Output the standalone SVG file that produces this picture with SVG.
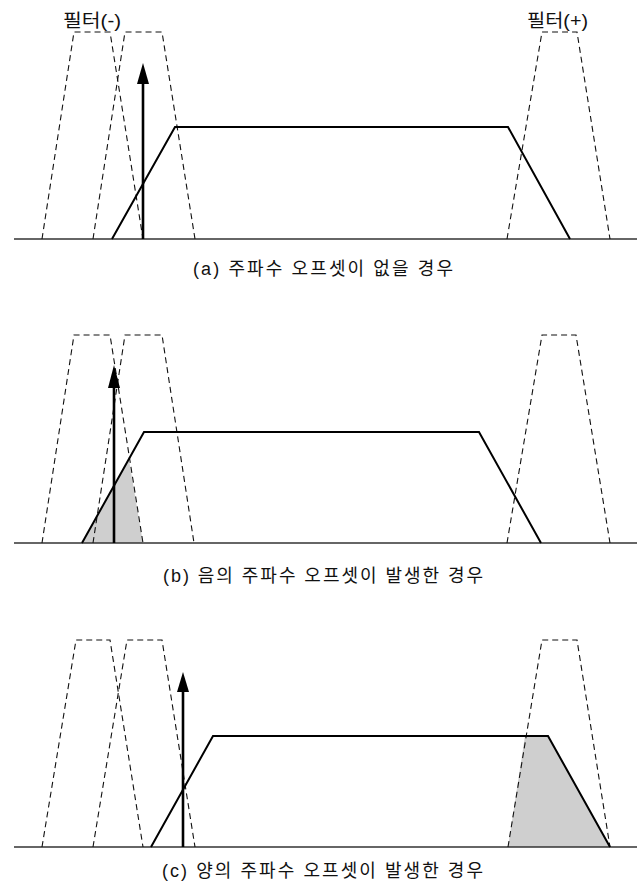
<svg xmlns="http://www.w3.org/2000/svg" width="637" height="886" viewBox="0 0 637 886">
<defs>
<style>
.base{fill:none;stroke:#333;stroke-width:1.3}
.filt{fill:none;stroke:#111;stroke-width:1.1;stroke-dasharray:6,4}
.sig{fill:none;stroke:#000;stroke-width:2;stroke-linejoin:miter}
.shade{fill:#cfcfcf;stroke:none}
.arr{stroke:#000;stroke-width:2.6}
.head{fill:#000}
.lbl{font-family:"Liberation Sans","Noto Sans CJK KR",sans-serif;font-size:18px;fill:#111}
.cap{font-family:"Liberation Sans","Noto Sans CJK KR",sans-serif;font-size:18px;fill:#111}
</style>
</defs>

<!-- Panel (a) -->
<g id="panel-a">
  <line class="base" x1="14" y1="239" x2="637" y2="239"/>
  <g id="a-filter-m1"><polyline class="filt" points="42,239 74,32 110,32 143,239"/></g>
  <g id="a-filter-m2"><polyline class="filt" points="93,239 125,32 162,32 195,239"/></g>
  <g id="a-filter-p"><polyline class="filt" points="507,239 542,32 577,32 610,239"/></g>
  <g id="a-signal"><polyline class="sig" points="112,239 175,127 508,127 570,239"/></g>
  <g id="a-carrier">
    <line class="arr" x1="143" y1="239" x2="143" y2="80"/>
    <polygon class="head" points="143,63 137,84 149,84"/>
  </g>
  <text class="lbl" x="63" y="27" textLength="58" lengthAdjust="spacingAndGlyphs">필터(-)</text>
  <text class="lbl" x="527" y="27" textLength="61" lengthAdjust="spacingAndGlyphs">필터(+)</text>
  <text class="cap" x="193" y="275" textLength="260" lengthAdjust="spacing">(a) 주파수 오프셋이 없을 경우</text>
</g>

<!-- Panel (b) -->
<g id="panel-b">
  <polygon class="shade" points="82,543 129,460 143,543"/>
  <line class="base" x1="14" y1="543" x2="637" y2="543"/>
  <g id="b-filter-m1"><polyline class="filt" points="42,543 74,335 110,335 143,543"/></g>
  <g id="b-filter-m2"><polyline class="filt" points="93,543 125,335 162,335 194,543"/></g>
  <g id="b-filter-p"><polyline class="filt" points="507,543 542,335 576,335 610,543"/></g>
  <g id="b-signal"><polyline class="sig" points="82,543 144,432 479,432 541,543"/></g>
  <g id="b-carrier">
    <line class="arr" x1="114" y1="543" x2="114" y2="382"/>
    <polygon class="head" points="114,365 108,388 120,388"/>
  </g>
  <text class="cap" x="163" y="582" textLength="320" lengthAdjust="spacing">(b) 음의 주파수 오프셋이 발생한 경우</text>
</g>

<!-- Panel (c) -->
<g id="panel-c">
  <polygon class="shade" points="508,847 525,736 548,736 610,847"/>
  <line class="base" x1="14" y1="847" x2="637" y2="847"/>
  <g id="c-filter-m1"><polyline class="filt" points="42,847 76,640 110,640 143,847"/></g>
  <g id="c-filter-m2"><polyline class="filt" points="93,847 127,640 162,640 195,847"/></g>
  <g id="c-filter-p"><polyline class="filt" points="508,847 542,640 577,640 610,847"/></g>
  <g id="c-signal"><polyline class="sig" points="151,847 213,736 548,736 610,847"/></g>
  <g id="c-carrier">
    <line class="arr" x1="183" y1="847" x2="183" y2="688"/>
    <polygon class="head" points="183,672 177,692 189,692"/>
  </g>
  <text class="cap" x="162" y="877" textLength="321" lengthAdjust="spacing">(c) 양의 주파수 오프셋이 발생한 경우</text>
</g>
</svg>
